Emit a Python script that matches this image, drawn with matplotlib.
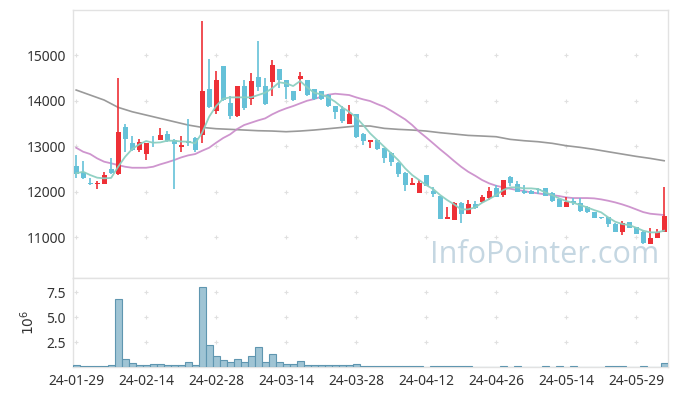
import numpy as np
import matplotlib
matplotlib.use("Agg")
from matplotlib import pyplot as plt

# daily candles, trading-day index 0..84
opens = [12560, 12430, 12180, 12160, 12170, 12490, 12390, 13420, 13060, 12920,
         12820, 13080, 13140, 13260, 13140, 12990, 13110, 13180, 13250, 14250,
         13760, 14760, 13950, 13650, 14330, 14040, 14520, 14320, 14400, 14690,
         14450, 14210, 14480, 14450, 14250, 14200, 14120, 13880, 13810, 13490,
         13700, 13270, 13095, 13130, 12950, 12850, 12630, 12410, 12145, 11975,
         12360, 12020, 11900, 11400, 11380, 11750, 11510, 11720, 11760, 11860,
         12070, 11930, 12330, 12160, 12010, 12010, 12060, 12070, 11960, 11830,
         11670, 11790, 11750, 11670, 11550, 11440, 11430, 11290, 11120, 11320,
         11210, 11120, 10850, 10980, 11120]
highs = [12800, 12670, 12300, 12230, 12420, 12740, 14490, 13480, 13210, 13160,
         13070, 13210, 13390, 13320, 13150, 13220, 13590, 13190, 15750, 14910,
         14650, 14770, 14110, 14330, 14450, 14600, 15310, 14490, 14900, 14700,
         14460, 14220, 14630, 14460, 14260, 14210, 14150, 13890, 13870, 13900,
         13710, 13280, 13140, 13140, 12960, 12870, 12640, 12420, 12305, 12250,
         12370, 12110, 11910, 11670, 11760, 11760, 11810, 11790, 11930, 12100,
         12140, 12260, 12340, 12230, 12140, 12030, 12070, 12080, 11980, 11840,
         11890, 11850, 11860, 11690, 11560, 11450, 11440, 11300, 11350, 11340,
         11220, 11130, 11190, 11170, 12090]
lows = [12290, 12280, 12150, 12050, 12160, 12390, 12370, 12880, 12890, 12880,
        12690, 12990, 13130, 13080, 12050, 12860, 13000, 12860, 13060, 13830,
        13700, 14000, 13590, 13640, 13790, 13900, 14200, 13910, 14100, 14270,
        14030, 14000, 14210, 14110, 14020, 14020, 13850, 13590, 13500, 13480,
        13170, 13020, 12950, 12920, 12620, 12560, 12330, 12020, 12140, 11970,
        12120, 11890, 11390, 11390, 11370, 11310, 11500, 11620, 11750, 11810,
        11880, 11880, 12120, 11990, 11950, 11940, 11950, 11900, 11780, 11650,
        11660, 11710, 11560, 11530, 11410, 11400, 11210, 11100, 11050, 11190,
        11060, 10850, 10840, 10970, 11110]
closes = [12385, 12290, 12160, 12190, 12360, 12410, 13300, 13160, 12910, 13080,
          13060, 13060, 13240, 13100, 13050, 13030, 13060, 12920, 14200, 13860,
          14450, 14010, 13650, 14320, 13830, 14430, 14300, 13930, 14780, 14450,
          14300, 14010, 14540, 14120, 14030, 14040, 13870, 13750, 13560, 13700,
          13200, 13100, 13130, 12930, 12740, 12640, 12390, 12140, 12195, 12195,
          12130, 11950, 11400, 11440, 11750, 11510, 11730, 11630, 11890, 12010,
          11890, 12250, 12195, 12000, 11960, 11950, 12035, 11910, 11790, 11660,
          11780, 11750, 11580, 11550, 11420, 11410, 11290, 11110, 11310, 11200,
          11070, 10880, 10980, 11100, 11460]
# volume in millions
volume = [0.2, 0.07, 0.07, 0.07, 0.07, 0.2, 6.87, 0.77, 0.37, 0.17,
          0.17, 0.27, 0.27, 0.17, 0.17, 0.17, 0.47, 0.17, 8.07, 2.17,
          1.07, 0.7, 0.47, 0.77, 0.47, 1.07, 1.97, 0.47, 1.27, 0.47,
          0.27, 0.27, 0.57, 0.17, 0.17, 0.17, 0.17, 0.17, 0.17, 0.17,
          0.27, 0.07, 0.07, 0.07, 0.07, 0.07, 0.07, 0.07, 0.07, 0.07,
          0, 0.07, 0.07, 0.07, 0.07, 0.07, 0.07, 0, 0, 0,
          0, 0.07, 0, 0.07, 0, 0, 0, 0.07, 0, 0.07,
          0, 0.07, 0, 0, 0, 0, 0.07, 0.07, 0.07, 0,
          0, 0.07, 0, 0, 0.37]

ma5 = [12400, 12435, 12363, 12305, 12290, 12300, 12545, 12765, 12934, 13037,
       13110, 13073, 13080, 13117, 13117, 13100, 13095, 13060, 13293, 13645,
       13879, 14040, 14070, 14070, 14070, 14070, 14121, 14172, 14268, 14400,
       14378, 14319, 14429, 14290, 14172, 14136, 14070, 13974, 13850, 13754,
       13630, 13462, 13278, 13132, 12985, 12840, 12692, 12510, 12363, 12253,
       12143, 12055, 11923, 11813, 11718, 11608, 11608, 11652, 11755, 11835,
       11923, 12033, 12092, 12092, 12070, 12070, 12055, 11982, 11923, 11850,
       11791, 11755, 11703, 11652, 11593, 11543, 11433, 11337, 11286, 11264,
       11205, 11140, 11103, 11103, 11140]
ma20 = [12963, 12875, 12824, 12729, 12656, 12620, 12582, 12545, 12523, 12523,
        12523, 12545, 12597, 12642, 12692, 12750, 12795, 12824, 12897, 12963,
        13073, 13176, 13257, 13374, 13462, 13513, 13564, 13608, 13696, 13769,
        13828, 13879, 13938, 13996, 14033, 14084, 14128, 14150, 14136, 14121,
        14070, 14026, 13989, 13923, 13864, 13776, 13681, 13586, 13462, 13315,
        13191, 13060, 12927, 12802, 12670, 12545, 12436, 12348, 12253, 12180,
        12128, 12092, 12062, 12033, 12011, 11982, 11960, 11938, 11923, 11901,
        11872, 11857, 11857, 11857, 11850, 11828, 11798, 11762, 11718, 11667,
        11608, 11549, 11513, 11498, 11484]
# 120-day average, read every second day
ma120_idx = list(range(0, 85, 2))
ma120 = [14231, 14121, 14011, 13850, 13754, 13681, 13608, 13535, 13462, 13410,
         13381, 13367, 13352, 13337, 13330, 13315, 13330, 13352, 13381, 13410,
         13440, 13440, 13389, 13367, 13352, 13330, 13293, 13264, 13234, 13220,
         13205, 13147, 13117, 13095, 13060, 13008, 12971, 12927, 12875, 12824,
         12773, 12729, 12677]

tick_idx = [0, 10, 20, 30, 40, 50, 60, 70, 80]
tick_labels = ["24-01-29", "24-02-14", "24-02-28", "24-03-14", "24-03-28",
               "24-04-12", "24-04-26", "24-05-14", "24-05-29"]
price_ticks = [11000, 12000, 13000, 14000, 15000]
vol_ticks = [2.5, 5.0, 7.5]

plt.rcParams["font.family"] = ["Noto Sans", "DejaVu Sans"]

UP, DOWN = "#ee3036", "#65c1d8"
SPINE = "#e2e2e2"
CROSS = "#e0e0e0"

fig = plt.figure(figsize=(6.77, 3.96), dpi=100)
ax = fig.add_axes([73 / 677, 1 - 278 / 396, 595 / 677, 268 / 396])
axv = fig.add_axes([73 / 677, 1 - 367 / 396, 595 / 677, 89 / 396], sharex=ax)

x = np.arange(len(opens))
o = np.array(opens)
c = np.array(closes)
colors = [UP if cc >= oo else DOWN for oo, cc in zip(o, c)]

# moving averages under the candles
ax.plot(ma120_idx, ma120, color="#8f8f8f", lw=1.2, alpha=0.9, zorder=2)
ax.plot(x, ma20, color="#c98ac9", lw=1.3, alpha=0.9, zorder=2)
ax.plot(x, ma5, color="#8ccfc1", lw=1.3, alpha=0.95, zorder=4)

# candles
ax.vlines(x, lows, highs, colors=colors, lw=1.2, zorder=3)
body_h = np.maximum(np.abs(c - o), 18)
ax.bar(x, body_h, bottom=np.minimum(o, c), width=0.72, color=colors,
       linewidth=0, zorder=3)

# volume bars
axv.bar(x, volume, width=1.0, color="#9fc4d4", edgecolor="#5f96b0",
        linewidth=0.8, zorder=3)

# small '+' markers at tick intersections instead of grid lines
gx, gy = np.meshgrid(tick_idx, price_ticks)
ax.scatter(gx.ravel(), gy.ravel(), marker="+", s=12, color=CROSS, lw=0.8,
           zorder=1)
gx, gy = np.meshgrid(tick_idx, vol_ticks)
axv.scatter(gx.ravel(), gy.ravel(), marker="+", s=12, color=CROSS, lw=0.8,
            zorder=1)

ax.set_xlim(-0.45, 84.55)
ax.set_ylim(10100, 15990)
axv.set_ylim(0, 8.93)

ax.set_yticks(price_ticks)
ax.set_yticklabels([str(v) for v in price_ticks])
axv.set_yticks(vol_ticks)
axv.set_yticklabels(["2.5", "5.0", "7.5"])
axv.set_xticks(tick_idx)
axv.set_xticklabels(tick_labels)
ax.tick_params(axis="x", labelbottom=False)
axv.set_ylabel(r"$10^6$", fontsize=10, color="#333333", labelpad=6)

for a in (ax, axv):
    a.tick_params(length=0, labelsize=10, colors="#333333", pad=5)
    for s in a.spines.values():
        s.set_color(SPINE)
        s.set_linewidth(1.0)

ax.text(0.985, 0.03, "InfoPointer.com", transform=ax.transAxes,
        ha="right", va="bottom", fontsize=22, color="#c5d7e2",
        family="Open Sans", zorder=0)

fig.savefig("out.png", dpi=100)
